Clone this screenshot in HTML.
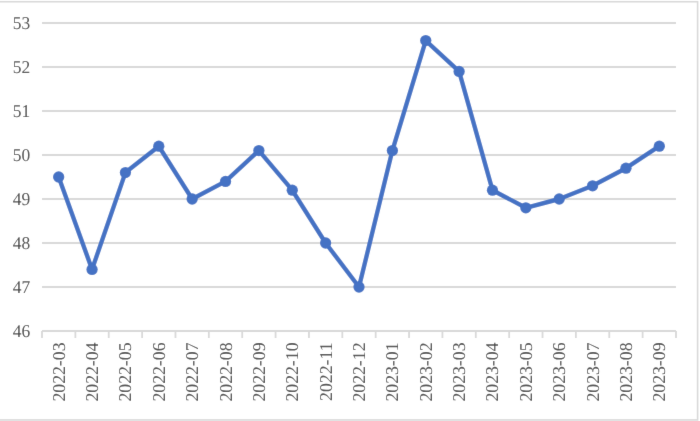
<!DOCTYPE html>
<html><head><meta charset="utf-8"><style>
html,body{margin:0;padding:0;background:#fff;}
svg{display:block;}
.g{stroke:#D9D9D9;stroke-width:1.8;fill:none;}
.t{font-family:"Liberation Serif","Times New Roman",serif;font-size:18px;fill:#4b4b4b;text-rendering:geometricPrecision;}
.ln{fill:none;stroke:#4472C4;stroke-width:4.4;stroke-linejoin:round;stroke-linecap:round;}
.m{fill:#4472C4;stroke:none;}
</style></head><body>
<svg width="700" height="421" viewBox="0 0 700 421">
<defs><filter id="bl" x="0" y="0" width="700" height="421" filterUnits="userSpaceOnUse"><feConvolveMatrix order="3" kernelMatrix="0.00524 0.06192 0.00524 0.06192 0.73137 0.06192 0.00524 0.06192 0.00524" edgeMode="duplicate"/></filter></defs>
<g filter="url(#bl)">
<rect x="0" y="0" width="700" height="421" fill="#fff"/>
<rect x="-20" y="1.75" width="717.6" height="418.2" fill="#fff" stroke="#D9D9D9" stroke-width="1.6"/>
<line x1="42.0" y1="287.00" x2="676.0" y2="287.00" class="g"/>
<line x1="42.0" y1="243.00" x2="676.0" y2="243.00" class="g"/>
<line x1="42.0" y1="199.00" x2="676.0" y2="199.00" class="g"/>
<line x1="42.0" y1="155.00" x2="676.0" y2="155.00" class="g"/>
<line x1="42.0" y1="111.00" x2="676.0" y2="111.00" class="g"/>
<line x1="42.0" y1="67.00" x2="676.0" y2="67.00" class="g"/>
<line x1="42.0" y1="23.00" x2="676.0" y2="23.00" class="g"/>
<line x1="42.0" y1="331.0" x2="676.0" y2="331.0" class="g"/>
<line x1="42.00" y1="331.0" x2="42.00" y2="338.0" class="g"/>
<line x1="75.37" y1="331.0" x2="75.37" y2="338.0" class="g"/>
<line x1="108.74" y1="331.0" x2="108.74" y2="338.0" class="g"/>
<line x1="142.11" y1="331.0" x2="142.11" y2="338.0" class="g"/>
<line x1="175.47" y1="331.0" x2="175.47" y2="338.0" class="g"/>
<line x1="208.84" y1="331.0" x2="208.84" y2="338.0" class="g"/>
<line x1="242.21" y1="331.0" x2="242.21" y2="338.0" class="g"/>
<line x1="275.58" y1="331.0" x2="275.58" y2="338.0" class="g"/>
<line x1="308.95" y1="331.0" x2="308.95" y2="338.0" class="g"/>
<line x1="342.32" y1="331.0" x2="342.32" y2="338.0" class="g"/>
<line x1="375.68" y1="331.0" x2="375.68" y2="338.0" class="g"/>
<line x1="409.05" y1="331.0" x2="409.05" y2="338.0" class="g"/>
<line x1="442.42" y1="331.0" x2="442.42" y2="338.0" class="g"/>
<line x1="475.79" y1="331.0" x2="475.79" y2="338.0" class="g"/>
<line x1="509.16" y1="331.0" x2="509.16" y2="338.0" class="g"/>
<line x1="542.53" y1="331.0" x2="542.53" y2="338.0" class="g"/>
<line x1="575.89" y1="331.0" x2="575.89" y2="338.0" class="g"/>
<line x1="609.26" y1="331.0" x2="609.26" y2="338.0" class="g"/>
<line x1="642.63" y1="331.0" x2="642.63" y2="338.0" class="g"/>
<line x1="676.00" y1="331.0" x2="676.00" y2="338.0" class="g"/>
<text transform="translate(30.2,336.70) scale(0.97,1)" class="t" text-anchor="end">46</text>
<text transform="translate(30.2,292.70) scale(0.97,1)" class="t" text-anchor="end">47</text>
<text transform="translate(30.2,248.70) scale(0.97,1)" class="t" text-anchor="end">48</text>
<text transform="translate(30.2,204.70) scale(0.97,1)" class="t" text-anchor="end">49</text>
<text transform="translate(30.2,160.70) scale(0.97,1)" class="t" text-anchor="end">50</text>
<text transform="translate(30.2,116.70) scale(0.97,1)" class="t" text-anchor="end">51</text>
<text transform="translate(30.2,72.70) scale(0.97,1)" class="t" text-anchor="end">52</text>
<text transform="translate(30.2,28.70) scale(0.97,1)" class="t" text-anchor="end">53</text>
<text transform="translate(64.68,342.5) rotate(-90) scale(0.985,1)" class="t" text-anchor="end">2022-03</text>
<text transform="translate(98.05,342.5) rotate(-90) scale(0.985,1)" class="t" text-anchor="end">2022-04</text>
<text transform="translate(131.42,342.5) rotate(-90) scale(0.985,1)" class="t" text-anchor="end">2022-05</text>
<text transform="translate(164.79,342.5) rotate(-90) scale(0.985,1)" class="t" text-anchor="end">2022-06</text>
<text transform="translate(198.16,342.5) rotate(-90) scale(0.985,1)" class="t" text-anchor="end">2022-07</text>
<text transform="translate(231.53,342.5) rotate(-90) scale(0.985,1)" class="t" text-anchor="end">2022-08</text>
<text transform="translate(264.89,342.5) rotate(-90) scale(0.985,1)" class="t" text-anchor="end">2022-09</text>
<text transform="translate(298.26,342.5) rotate(-90) scale(0.985,1)" class="t" text-anchor="end">2022-10</text>
<text transform="translate(331.63,342.5) rotate(-90) scale(0.985,1)" class="t" text-anchor="end">2022-11</text>
<text transform="translate(365.00,342.5) rotate(-90) scale(0.985,1)" class="t" text-anchor="end">2022-12</text>
<text transform="translate(398.37,342.5) rotate(-90) scale(0.985,1)" class="t" text-anchor="end">2023-01</text>
<text transform="translate(431.74,342.5) rotate(-90) scale(0.985,1)" class="t" text-anchor="end">2023-02</text>
<text transform="translate(465.11,342.5) rotate(-90) scale(0.985,1)" class="t" text-anchor="end">2023-03</text>
<text transform="translate(498.47,342.5) rotate(-90) scale(0.985,1)" class="t" text-anchor="end">2023-04</text>
<text transform="translate(531.84,342.5) rotate(-90) scale(0.985,1)" class="t" text-anchor="end">2023-05</text>
<text transform="translate(565.21,342.5) rotate(-90) scale(0.985,1)" class="t" text-anchor="end">2023-06</text>
<text transform="translate(598.58,342.5) rotate(-90) scale(0.985,1)" class="t" text-anchor="end">2023-07</text>
<text transform="translate(631.95,342.5) rotate(-90) scale(0.985,1)" class="t" text-anchor="end">2023-08</text>
<text transform="translate(665.32,342.5) rotate(-90) scale(0.985,1)" class="t" text-anchor="end">2023-09</text>
<polyline points="58.68,177.00 92.05,269.40 125.42,172.60 158.79,146.20 192.16,199.00 225.53,181.40 258.89,150.60 292.26,190.20 325.63,243.00 359.00,287.00 392.37,150.60 425.74,40.60 459.11,71.40 492.47,190.20 525.84,207.80 559.21,199.00 592.58,185.80 625.95,168.20 659.32,146.20" class="ln"/>
<circle cx="58.68" cy="177.00" r="5.65" class="m"/>
<circle cx="92.05" cy="269.40" r="5.65" class="m"/>
<circle cx="125.42" cy="172.60" r="5.65" class="m"/>
<circle cx="158.79" cy="146.20" r="5.65" class="m"/>
<circle cx="192.16" cy="199.00" r="5.65" class="m"/>
<circle cx="225.53" cy="181.40" r="5.65" class="m"/>
<circle cx="258.89" cy="150.60" r="5.65" class="m"/>
<circle cx="292.26" cy="190.20" r="5.65" class="m"/>
<circle cx="325.63" cy="243.00" r="5.65" class="m"/>
<circle cx="359.00" cy="287.00" r="5.65" class="m"/>
<circle cx="392.37" cy="150.60" r="5.65" class="m"/>
<circle cx="425.74" cy="40.60" r="5.65" class="m"/>
<circle cx="459.11" cy="71.40" r="5.65" class="m"/>
<circle cx="492.47" cy="190.20" r="5.65" class="m"/>
<circle cx="525.84" cy="207.80" r="5.65" class="m"/>
<circle cx="559.21" cy="199.00" r="5.65" class="m"/>
<circle cx="592.58" cy="185.80" r="5.65" class="m"/>
<circle cx="625.95" cy="168.20" r="5.65" class="m"/>
<circle cx="659.32" cy="146.20" r="5.65" class="m"/>
</g>
</svg>
</body></html>
